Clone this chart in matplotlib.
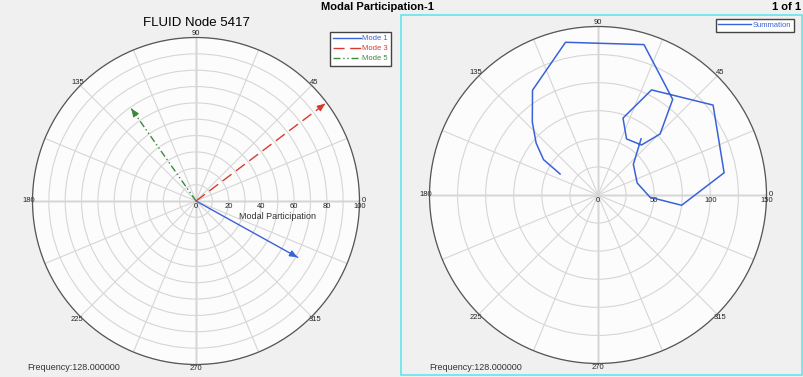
import numpy as np
import matplotlib
matplotlib.use('Agg')
import matplotlib.pyplot as plt
from matplotlib.lines import Line2D
from matplotlib.patches import Rectangle

plt.rcParams['font.family'] = ['Liberation Sans', 'DejaVu Sans']

# left plot: mode vectors (angle in degrees, modal participation)
modes = ['Mode 1', 'Mode 3', 'Mode 5']
mode_angle = [331, 37, 125]
mode_value = [71, 99, 69]
mode_color = ['#3a62d8', '#d83a2e', '#3a8a3a']
mode_style = ['-', (0, (8, 4)), (0, (5, 2, 1, 2, 1, 2))]

# right plot: summation curve
sum_angle = [151, 147, 140, 132, 122, 102, 73, 52, 44.5, 49, 63, 72, 63, 38,
             10, 353, 357.5, 17, 41, 52.5]
sum_value = [38.6, 57.8, 71.9, 87.4, 110, 139, 140, 108, 77.5, 59, 56, 72, 105, 130,
             114, 75, 46.4, 36.5, 41.7, 63]

left_rticks = [0, 20, 40, 60, 80, 100]
right_rticks = [0, 50, 100, 150]
freq_text = 'Frequency:128.000000'

W, H = 804, 377
fig = plt.figure(figsize=(W / 100, H / 100), dpi=100, facecolor='#f0f0f0')


def polar_axes(rect, rmax, rstep, rticks):
    ax = fig.add_axes(rect, projection='polar')
    ax.set_facecolor('#fcfcfc')
    ang = np.arange(0, 360, 22.5)
    labs = [str(int(a)) if a % 45 == 0 else '' for a in ang]
    ax.set_thetagrids(ang, labels=labs, fontsize=5.5, color='#222222')
    ax.set_rgrids(np.arange(rstep, rmax + 0.1, rstep), labels=[])
    ax.set_rlim(0, rmax)
    ax.grid(color='#d6d6d6', lw=0.8)
    ax.tick_params(axis='x', pad=-7.5)
    ax.spines['polar'].set_color('#555555')
    ax.spines['polar'].set_linewidth(0.9)
    for a in [0, 90, 180, 270]:
        ax.plot([np.radians(a)] * 2, [0, rmax], color='#6e6e6e', lw=0.9, zorder=1)
    for r in rticks:
        ax.annotate(str(r), xy=(0, r), xytext=(0, -1.5), textcoords='offset points',
                    ha='center', va='top', fontsize=5.5, color='#222222')
    return ax


# left panel
ax1 = polar_axes([32.5 / W, 12.5 / H, 327 / W, 327 / H], 100, 10, left_rticks)
for a, v, c, ls in zip(mode_angle, mode_value, mode_color, mode_style):
    t = np.radians(a)
    ax1.plot([t, t], [0, v], color=c, ls=ls, lw=1.0, zorder=3)
    ax1.annotate('', xy=(t, v), xytext=(t, v - 5),
                 arrowprops=dict(arrowstyle='-|>,head_length=0.6,head_width=0.25',
                                 color=c, lw=0.8, shrinkA=0, shrinkB=0,
                                 mutation_scale=8), zorder=4)
ax1.annotate('Modal Participation', xy=(0, 50), xytext=(0, -8), textcoords='offset points',
             ha='center', va='top', fontsize=6.5, color='#333333')
handles = [Line2D([], [], color=c, ls=ls, lw=1.0) for c, ls in zip(mode_color, mode_style)]
fig.legend(handles, modes, loc='upper right', bbox_to_anchor=(391 / W, 1 - 32 / H),
           fontsize=5.5, labelcolor='linecolor', fancybox=False, framealpha=1,
           edgecolor='#444444', borderaxespad=0, handlelength=3.6, handletextpad=0.2,
           labelspacing=0.35, borderpad=0.4)
fig.text(196.5 / W, 1 - 23 / H, 'FLUID Node 5417', ha='center', va='center', fontsize=9.5)
fig.text(27.7 / W, 1 - 367 / H, freq_text, ha='left', va='center', fontsize=6.5, color='#333333')

# right panel
ax2 = polar_axes([429.5 / W, 13.5 / H, 337 / W, 337 / H], 150, 25, right_rticks)
ax2.plot(np.radians(sum_angle), sum_value, color='#3a62d8', lw=1.1, zorder=3)
fig.legend([Line2D([], [], color='#3a62d8', lw=1.0)], ['Summation'], loc='upper right',
           bbox_to_anchor=(794 / W, 1 - 19 / H), fontsize=5.5, labelcolor='linecolor',
           fancybox=False, framealpha=1, edgecolor='#444444', borderaxespad=0,
           handlelength=4.2, handletextpad=0.3, borderpad=0.35)
fig.text(429 / W, 1 - 367.5 / H, freq_text, ha='left', va='center', fontsize=6.5, color='#333333')
fig.patches.append(Rectangle((401 / W, 1 - 375 / H), 401 / W, 360 / H, transform=fig.transFigure,
                             fill=False, edgecolor='#62e6ec', lw=1.2))

fig.text(377 / W, 1 - 7.5 / H, 'Modal Participation-1', ha='center', va='center',
         fontsize=8, fontweight='bold')
fig.text(801 / W, 1 - 7.5 / H, '1 of 1', ha='right', va='center', fontsize=8, fontweight='bold')

fig.savefig('out.png', dpi=100, facecolor=fig.get_facecolor())
